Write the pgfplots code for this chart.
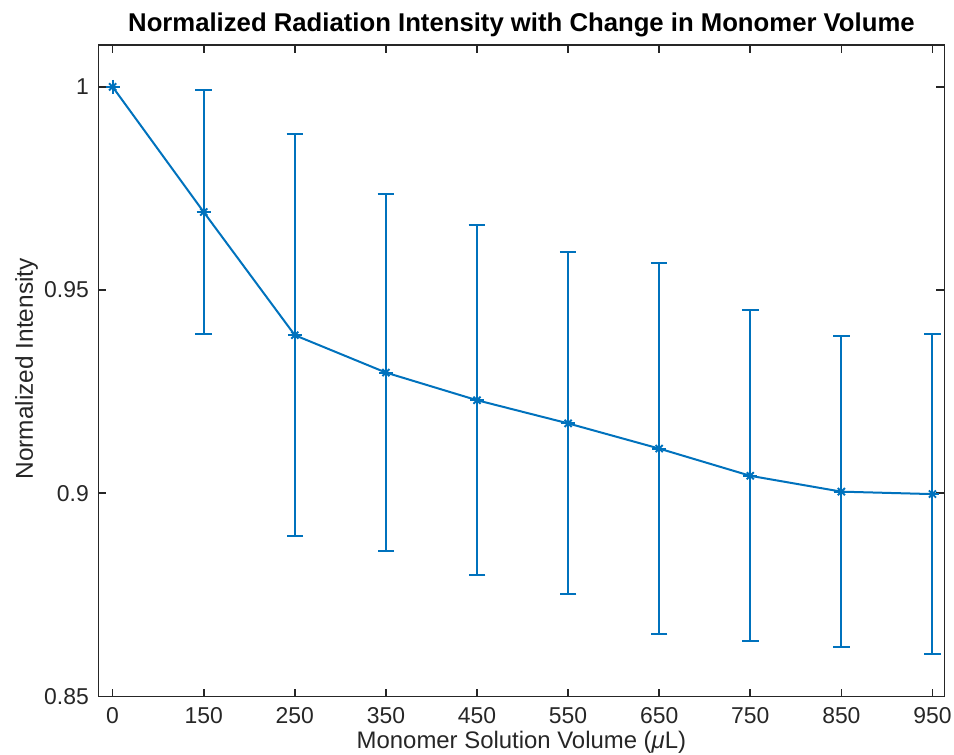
\documentclass[border=0pt]{standalone}
\usepackage{fontspec}
\setmainfont{Liberation Sans}
\usepackage{pgfplots}
\usepackage{pgfplotstable}
\pgfplotsset{compat=1.18}
\definecolor{mblue}{RGB}{0,114,189}
\definecolor{axgray}{RGB}{38,38,38}
\pgfplotstableread{
x y e
0 1.0000 0.0000
1 0.9692 0.0300
2 0.9389 0.0494
3 0.9297 0.0439
4 0.9229 0.0430
5 0.9172 0.0421
6 0.9110 0.0456
7 0.9043 0.0407
8 0.9004 0.0383
9 0.8998 0.0393
}\datatab
\pgfplotstableread{
x y e
1 0.9692 0.0300
2 0.9389 0.0494
3 0.9297 0.0439
4 0.9229 0.0430
5 0.9172 0.0421
6 0.9110 0.0456
7 0.9043 0.0407
8 0.9004 0.0383
9 0.8998 0.0393
}\errtab
\begin{document}
\begin{tikzpicture}
\begin{axis}[
  name=ax,
  scale only axis,
  width=845.8bp, height=651.5bp,
  xmin=-0.155, xmax=9.13,
  ymin=0.85, ymax=1.0103,
  xtick={0,1,2,3,4,5,6,7,8,9},
  xticklabels={0,150,250,350,450,550,650,750,850,950},
  ytick={0.85,0.9,0.95,1},
  yticklabels={0.85,0.9,0.95,1},
  /pgf/number format/assume math mode=true,
  tick align=inside,
  major tick length=8bp,
  axis line style={axgray, line width=1.6bp},
  every tick/.style={axgray, line width=1.6bp},
  tick label style={font=\fontsize{23}{27}\selectfont, text=axgray},
  xticklabel style={inner sep=0pt, anchor=north, yshift=-11bp},
  yticklabel style={inner sep=0pt, anchor=east, xshift=-9.5bp},
  title={\textbf{Normalized Radiation Intensity with Change in Monomer Volume}},
  title style={font=\fontsize{25.8}{30}\selectfont, at={(axis description cs:0.5,1)}, anchor=base, yshift=8bp, inner sep=0pt},
  xlabel={Monomer Solution Volume (\textit{μ}L)},
  xlabel style={font=\fontsize{24}{29}\selectfont, text=axgray, at={(axis description cs:0.5,0)}, anchor=base, yshift=-51.5bp, inner sep=0pt},
  ylabel={Normalized Intensity},
  ylabel style={font=\fontsize{24.5}{29}\selectfont, text=axgray, at={(axis description cs:0,0.503)}, anchor=base, yshift=65.5bp, inner sep=0pt},
]
\addplot[mblue, only marks, mark=none, forget plot,
  error bars/.cd, y dir=both, y explicit,
  error bar style={draw=mblue, line width=2bp},
  error mark options={draw=mblue, rotate=90, mark size=8.3bp, line width=2bp}]
  table[x=x, y=y, y error=e] {\errtab};
\addplot[mblue, line width=2bp, mark=+, mark size=7bp, mark options={line width=1.9bp}]
  table[x=x, y=y] {\datatab};
\addplot[mblue, only marks, mark=x, mark size=5bp, mark options={line width=1.9bp}]
  table[x=x, y=y] {\datatab};
\end{axis}
\pgfresetboundingbox
\useasboundingbox ([shift={(-98.5bp,-58.5bp)}]ax.south west) rectangle ([shift={(9.7bp,45bp)}]ax.north east);
\end{tikzpicture}
\end{document}
